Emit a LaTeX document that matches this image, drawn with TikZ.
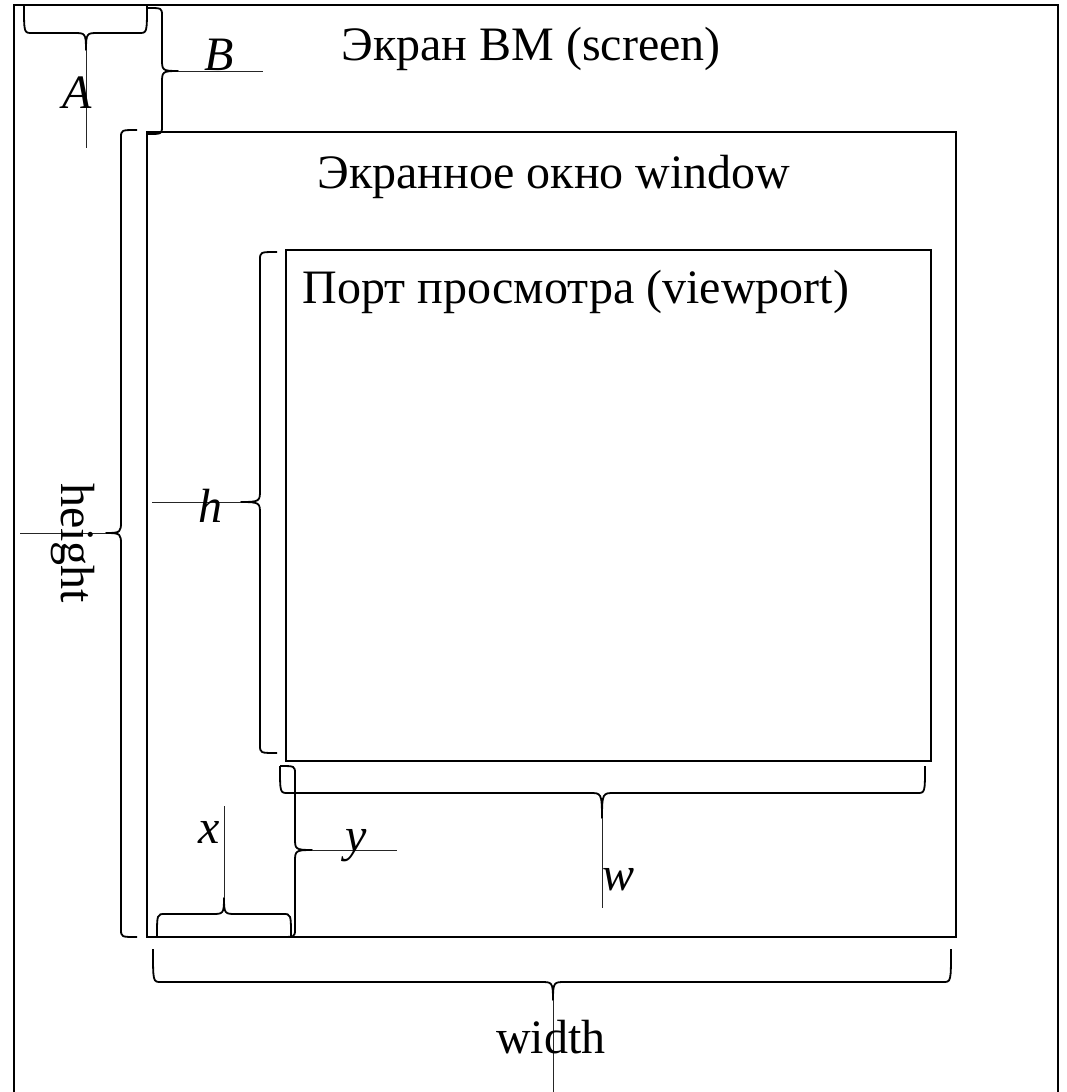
\documentclass[tikz,border=0pt]{standalone}
\usepackage{fontspec}
\setmainfont{Liberation Serif}
\begin{document}
\begin{tikzpicture}[x=1pt,y=-1pt,
  frame/.style={line width=2.2pt,draw=black},
  bracestyle/.style={line width=1.8pt,draw=black,line join=round},
  pointer/.style={line width=0.8pt,draw=black!85},
  lbl/.style={font=\fontsize{48}{56}\selectfont,inner sep=0pt,anchor=base},
  ilbl/.style={font=\fontsize{48}{56}\selectfont\itshape,inner sep=0pt,anchor=base}]
\newcommand\braceH[6]{%
 \draw[bracestyle] (#1,#3) .. controls (#1,#4) and (#1,#4) .. ({#1+8},#4) -- ({#5-12},#4)
   .. controls ({#5-1},#4) and (#5,#4) .. (#5,#6)
   .. controls (#5,#4) and ({#5+1},#4) .. ({#5+12},#4) -- ({#2-8},#4)
   .. controls (#2,#4) and (#2,#4) .. (#2,#3);}
\newcommand\braceV[6]{%
 \draw[bracestyle] (#3,#1) .. controls (#4,#1) and (#4,#1) .. (#4,{#1+8}) -- (#4,{#5-12})
   .. controls (#4,{#5-1}) and (#4,#5) .. (#6,#5)
   .. controls (#4,#5) and (#4,{#5+1}) .. (#4,{#5+12}) -- (#4,{#2-8})
   .. controls (#4,#2) and (#4,#2) .. (#3,#2);}
\useasboundingbox (0,0) rectangle (1067,1092);
\clip (0,0) rectangle (1067,1092);
\fill[white] (0,0) rectangle (1067,1092);
% rectangles
\draw[frame] (14,1120) -- (14,5) -- (1058,5) -- (1058,1120);
\draw[frame] (147,132) rectangle (956,937);
\draw[frame] (286,250) rectangle (931,761);
% titles
\node[lbl] (tscreen) at (531,60) {Экран ВМ (screen)};
\node[lbl] (twindow) at (554,188) {Экранное окно window};
\node[lbl] (tview) at (576,303) {Порт просмотра (viewport)};
% braces
\braceH{24}{147}{5}{33}{86}{50}
\braceV{8}{134}{148}{162}{71}{178}
\braceV{130}{937}{137}{121}{533}{106}
\braceV{252}{753}{277}{260}{502}{241}
\braceH{280}{925}{766}{793}{602}{818}
\braceV{766}{937}{280}{295}{850}{312}
\braceH{157}{291}{937}{914}{224}{898}
\braceH{153}{951}{949}{982}{553}{1000}
% pointer lines
\coordinate (tA) at (86,50);   \coordinate (eA) at (86,148);
\coordinate (tB) at (178,71);  \coordinate (eB) at (263,71);
\coordinate (tH) at (106,533); \coordinate (eH) at (20,533);
\coordinate (th) at (241,502); \coordinate (eh) at (152,502);
\coordinate (tw) at (602,818); \coordinate (ew) at (602,908);
\coordinate (ty) at (312,850); \coordinate (ey) at (397,850);
\coordinate (tx) at (224,898); \coordinate (ex) at (224,806);
\coordinate (tW) at (553,1000);\coordinate (eW) at (553,1092);
\foreach \a/\b in {tA/eA,tB/eB,tH/eH,th/eh,tw/ew,ty/ey,tx/ex,tW/eW}
  \draw[pointer] (\a) -- (\b);
% labels
\node[ilbl] (lA) at (77,108) {A};
\node[ilbl] (lB) at (219,70) {B};
\node[ilbl] (lh) at (210,522) {h};
\node[ilbl] (lx) at (209,843) {x};
\node[ilbl] (ly) at (356,851) {y};
\node[ilbl] (lw) at (618,890) {w};
\node[lbl,anchor=center,rotate=-90] (lheight) at (73,543) {height};
\node[lbl] (lwidth) at (551,1053) {width};
\end{tikzpicture}
\end{document}
